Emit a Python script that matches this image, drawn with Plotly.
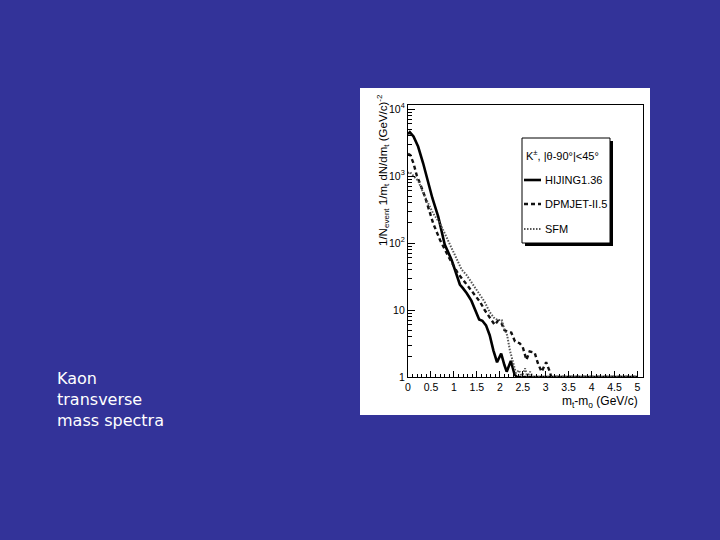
import plotly.graph_objects as go

# ---- data ----
hijing_x = [0.0, 0.04, 0.12, 0.22, 0.33, 0.44, 0.53, 0.66, 0.80, 0.95, 1.04, 1.13, 1.20, 1.28,
            1.38, 1.47, 1.55, 1.62, 1.70, 1.78, 1.86, 1.94, 2.03, 2.10, 2.15, 2.24, 2.32, 2.37, 5.0]
hijing_y = [4200, 4500, 3900, 2750, 1550, 780, 470, 245, 95, 56, 36, 24, 21, 17.8,
            13.8, 10, 7.2, 6.9, 5.9, 4.2, 2.5, 1.66, 2.24, 1.51, 1.2, 1.74, 1.1, 1.0, 1.0]

dpmjet_x = [0.0, 0.05, 0.12, 0.19, 0.26, 0.37, 0.55, 0.70, 0.88, 1.0, 1.09, 1.24, 1.35, 1.46,
            1.57, 1.67, 1.78, 1.89, 1.96, 2.04, 2.10, 2.18, 2.25, 2.33, 2.43, 2.50, 2.58, 2.65,
            2.76, 2.83, 2.91, 3.01, 3.09, 3.12, 5.0]
dpmjet_y = [2150, 2050, 1550, 1020, 780, 490, 195, 110, 63, 45, 35, 26, 21, 16.6,
            13.2, 10, 7.9, 6.0, 6.9, 6.3, 5.0, 4.7, 4.6, 3.4, 3.2, 2.8, 1.8, 2.4,
            2.3, 1.6, 1.2, 1.66, 1.2, 1.0, 1.0]

sfm_x = [0.0, 0.04, 0.12, 0.22, 0.37, 0.55, 0.70, 0.84, 0.97, 1.07, 1.17, 1.28, 1.38, 1.48,
         1.58, 1.67, 1.78, 1.89, 1.96, 2.04, 2.10, 2.16, 2.22, 2.29, 2.35, 2.42, 2.48, 2.55,
         2.60, 2.66, 2.72, 5.0]
sfm_y = [1100, 1150, 1000, 850, 490, 275, 195, 123, 79, 56, 40, 33, 26, 21.4,
         16.6, 13.2, 9.3, 7.4, 7.1, 7.1, 5.2, 4.2, 2.5, 1.6, 1.15, 1.26, 1.0, 1.35,
         1.0, 1.2, 1.0, 1.0]

series_names = ["HIJING1.36", "DPMJET-II.5", "SFM"]
x_ticks = [0, 0.5, 1, 1.5, 2, 2.5, 3, 3.5, 4, 4.5, 5]
x_tick_text = ["0", "0.5", "1", "1.5", "2", "2.5", "3", "3.5", "4", "4.5", "5"]
y_ticks = [1, 10, 100, 1000, 10000]
y_tick_text = ["1", "10", "10<sup>2</sup>", "10<sup>3</sup>", "10<sup>4</sup>"]
legend_header = "K<sup>±</sup>, |θ-90°|<45°"
side_text = "Kaon<br>transverse<br>mass spectra"

BG = "#333399"
FAM = "Liberation Sans, Arial, sans-serif"

# ---- geometry helpers (pixel -> paper) ----
L, R, T, B = 408, 643, 105, 377
W, H = R - L, B - T
def px(x):
    return (x - L) / W
def py(y):
    return (B - y) / H

styles = [
    dict(color="black", width=2.6, dash="solid"),
    dict(color="#111111", width=2.4, dash="4px,3px"),
    dict(color="#555555", width=2.0, dash="1.5px,1.5px"),
]

fig = go.Figure()
for xs, ys, name, st in zip([hijing_x, dpmjet_x, sfm_x], [hijing_y, dpmjet_y, sfm_y],
                            series_names, styles):
    fig.add_trace(go.Scatter(x=xs, y=ys, mode="lines", name=name, line=st,
                             showlegend=False))

font = dict(family=FAM, size=10.5, color="black")

minor_y = [m * 10 ** d for d in range(4) for m in range(2, 10)]
fig.update_xaxes(range=[0, (R - L) / 45.9], tickvals=x_ticks, ticktext=x_tick_text,
                 ticks="inside", ticklen=6, tickcolor="black", showgrid=False,
                 zeroline=False, showline=True, linecolor="black", linewidth=1.2,
                 mirror=True, tickfont=font,
                 minor=dict(ticks="inside", ticklen=3, dtick=0.1, tickcolor="black",
                            showgrid=False))
fig.update_yaxes(type="log", range=[0, (B - T) / 67.0], tickvals=y_ticks,
                 ticktext=y_tick_text, ticks="inside", ticklen=7, tickcolor="black",
                 showgrid=False, zeroline=False, showline=True, linecolor="black",
                 linewidth=1.2, mirror=True, tickfont=font,
                 minor=dict(ticks="inside", ticklen=4, tickvals=minor_y,
                            tickcolor="black", showgrid=False))

shapes = [
    # white panel behind the chart
    dict(type="rect", xref="paper", yref="paper", x0=px(360), x1=px(650), y0=py(415),
         y1=py(88), fillcolor="white", line=dict(width=0), layer="below"),
    # legend shadow
    dict(type="rect", xref="paper", yref="paper", x0=px(525), x1=px(613), y0=py(246),
         y1=py(141), fillcolor="black", line=dict(width=0)),
    # legend box
    dict(type="rect", xref="paper", yref="paper", x0=px(522), x1=px(610), y0=py(243),
         y1=py(138), fillcolor="white", line=dict(color="black", width=1)),
]
legend_rows = [180, 204, 229]
for row, st in zip(legend_rows, styles):
    shapes.append(dict(type="line", xref="paper", yref="paper", x0=px(524), x1=px(541),
                       y0=py(row), y1=py(row), line=st))
fig.update_layout(shapes=shapes)

ann = [
    dict(text=legend_header, x=px(524), y=py(155), xanchor="left", yanchor="middle",
         font=dict(family=FAM, size=11, color="black")),
    dict(text="1/N<sub>event</sub> 1/m<sub>t</sub> dN/dm<sub>t</sub> (GeV/c)<sup>-2</sup>",
         x=px(383), y=py(92), xanchor="center", yanchor="top", textangle=-90,
         font=dict(family=FAM, size=11.5, color="black")),
    dict(text="m<sub>t</sub>-m<sub>o</sub> (GeV/c)", x=px(640), y=py(402),
         xanchor="right", yanchor="middle", font=dict(family=FAM, size=12, color="black")),
    dict(text=side_text, x=px(55), y=py(367), xanchor="left", yanchor="top", align="left",
         font=dict(family="DejaVu Sans, sans-serif", size=16, color="white")),
]
for name, row in zip(series_names, legend_rows):
    ann.append(dict(text=name, x=px(543), y=py(row), xanchor="left", yanchor="middle",
                    font=dict(family=FAM, size=11, color="black")))
for a in ann:
    a.update(xref="paper", yref="paper", showarrow=False)
fig.update_layout(annotations=ann)

fig.update_layout(width=720, height=540, paper_bgcolor=BG, plot_bgcolor="white",
                  margin=dict(l=L, r=720 - R, t=T, b=540 - B), showlegend=False)

fig.write_html("out.html", config={"displayModeBar": False},
               post_script="document.body.style.margin='0';"
                           "document.body.style.background='" + BG + "';")
